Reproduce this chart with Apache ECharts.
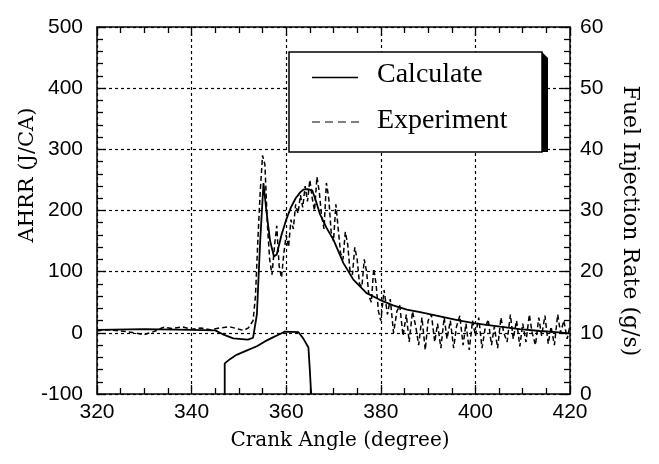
<!DOCTYPE html>
<html>
<head>
<meta charset="utf-8">
<script src="https://cdn.jsdelivr.net/npm/echarts@6/dist/echarts.min.js"></script>
<style>
  html, body { margin: 0; padding: 0; background: #fff; }
  #chart { width: 659px; height: 464px; }
</style>
</head>
<body>
<div id="chart"></div>
<script>
// calculated heat release rate (J/CA)
var calcAngle = [320, 330, 340, 345, 346.5, 348.8, 351.9, 353, 353.8, 354.5, 355.2, 355.8, 356.6, 357.4, 358, 359, 360, 361, 362, 363, 363.6, 364.5, 365.5, 366.3, 367.1, 368.5, 370, 372.1, 374.2, 377, 379.8, 382.6, 385.5, 388.3, 392.5, 396.7, 400.3, 405.2, 409.4, 413.7, 417, 420];
var calcAhrr = [5, 6, 5, 4, -2, -9, -11, -8, 30, 150, 245, 200, 150, 125, 128, 160, 185, 205, 220, 230, 234, 235, 233, 215, 195, 172, 152, 114, 87, 65, 54, 45, 38, 34, 27, 20, 15, 10, 6, 3, 1, -1];

// experimental heat release rate (J/CA)
var expAngle = [320, 322, 324, 326, 328, 330, 332, 334, 336, 338, 340, 342, 344, 346, 348, 350, 351, 352, 353, 353.5, 354, 354.5, 355, 355.5, 356, 356.5, 357, 357.5, 358, 358.5, 359, 359.5, 360, 360.5, 361, 361.5, 362, 362.5, 363, 363.5, 364, 364.5, 365, 365.5, 366, 366.5, 367, 367.5, 368, 368.5, 369, 369.5, 370, 370.5, 371, 371.5, 372, 372.5, 373, 373.5, 374, 374.5, 375, 375.5, 376, 376.5, 377, 377.5, 378, 378.5, 379, 379.5,
  380, 380.7, 381.4, 382, 382.7, 383.4, 384, 384.7, 385.4, 386, 386.7, 387.4, 388, 388.7, 389.4, 390, 390.7, 391.4, 392, 392.7, 393.4, 394, 394.7, 395.4, 396, 396.7, 397.4, 398, 398.7, 399.4,
  400, 400.7, 401.4, 402, 402.7, 403.4, 404, 404.7, 405.4, 406, 406.7, 407.4, 408, 408.7, 409.4, 410, 410.7, 411.4, 412, 412.7, 413.4, 414, 414.7, 415.4, 416, 416.7, 417.4, 418, 418.7, 419.4, 420];
var expAhrr = [3, 5, 4, 2, 0, -3, 2, 9, 7, 10, 6, 8, 5, 8, 10, 6, 4, 8, 20, 60, 150, 230, 290, 275, 180, 120, 95, 140, 175, 110, 90, 130, 160, 140, 185, 170, 210, 195, 225, 205, 240, 215, 250, 220, 200, 255, 230, 190, 170, 245, 220, 165, 150, 210, 170, 130, 120, 165, 145, 100, 95, 140, 120, 80, 75, 120, 100, 60, 50, 105, 80, 35,
  20, 70, 30, 55, 0, 35, 45, -5, 30, -15, 35, 10, -20, 25, -28, 20, 30, -15, 15, -25, 25, -10, 20, -25, 10, 28, -20, 15, -28, 20,
  -5, 25, -25, 5, 22, -20, 10, -25, 25, 0, -15, 30, -10, 20, -22, 15, -15, 30, 0, -20, 25, -5, 28, -18, 10, -20, 30, 0, 20, -10, 12];

// fuel injection rate (g/s)
var fuelAngle = [347, 347, 348.1, 349.5, 351.6, 353.8, 355.5, 357.3, 358.7, 359.7, 362.6, 363.6, 364.7, 365.0, 365.2, 365.3];
var fuelRate = [0, 5.0, 5.7, 6.4, 7.1, 7.8, 8.6, 9.3, 9.8, 10.2, 10.1, 9.1, 7.6, 3.9, 1.0, 0];

var xTicks = [320, 340, 360, 380, 400, 420];

function zip(xs, ys) {
  var out = [];
  for (var i = 0; i < xs.length; i++) out.push([xs[i], ys[i]]);
  return out;
}

var chart = echarts.init(document.getElementById('chart'));

var labelFont = 'Liberation Sans';
var axisLineStyle = { color: '#000', width: 1.5 };
var dotted = { color: '#000', width: 1.2, type: [3, 3] };
var tickStyle = { color: '#000', width: 1.3 };

var option = {
  animation: false,
  backgroundColor: '#fff',
  grid: { left: 97, right: 89, top: 27, bottom: 70 },
  xAxis: [
    {
      type: 'value', min: xTicks[0], max: xTicks[xTicks.length - 1], interval: 20,
      position: 'bottom',
      axisLine: { show: true, onZero: false, lineStyle: axisLineStyle },
      axisTick: { show: true, inside: true, length: 9, lineStyle: tickStyle },
      minorTick: { show: true, splitNumber: 4, length: 6, lineStyle: tickStyle },
      splitLine: { show: true, lineStyle: dotted },
      axisLabel: { color: '#000', fontFamily: labelFont, fontSize: 21, margin: 8 }
    },
    {
      type: 'value', min: xTicks[0], max: xTicks[xTicks.length - 1], interval: 20,
      position: 'top',
      axisLine: { show: true, onZero: false, lineStyle: axisLineStyle },
      axisTick: { show: true, inside: true, length: 9, lineStyle: tickStyle },
      minorTick: { show: true, splitNumber: 4, length: 6, lineStyle: tickStyle },
      splitLine: { show: false },
      axisLabel: { show: false }
    }
  ],
  yAxis: [
    {
      type: 'value', min: -100, max: 500, interval: 100,
      position: 'left',
      axisLine: { show: true, onZero: false, lineStyle: axisLineStyle },
      axisTick: { show: true, inside: true, length: 9, lineStyle: tickStyle },
      minorTick: { show: true, splitNumber: 5, length: 6, lineStyle: tickStyle },
      splitLine: { show: true, lineStyle: dotted },
      axisLabel: { color: '#000', fontFamily: labelFont, fontSize: 21, margin: 14, padding: [0, 0, 6, 0] }
    },
    {
      type: 'value', min: 0, max: 60, interval: 10,
      position: 'right',
      axisLine: { show: true, onZero: false, lineStyle: axisLineStyle },
      axisTick: { show: true, inside: true, length: 9, lineStyle: tickStyle },
      minorTick: { show: true, splitNumber: 5, length: 6, lineStyle: tickStyle },
      splitLine: { show: false },
      axisLabel: { color: '#000', fontFamily: labelFont, fontSize: 21, margin: 10, padding: [0, 0, 6, 0] }
    }
  ],
  series: [
    {
      name: 'Calculate', type: 'line', xAxisIndex: 0, yAxisIndex: 0,
      symbol: 'none', z: 4,
      lineStyle: { color: '#000', width: 1.8 },
      data: zip(calcAngle, calcAhrr)
    },
    {
      name: 'Experiment', type: 'line', xAxisIndex: 0, yAxisIndex: 0,
      symbol: 'none', z: 3,
      lineStyle: { color: '#000', width: 1.5, type: [5, 3] },
      data: zip(expAngle, expAhrr)
    },
    {
      name: 'Fuel', type: 'line', xAxisIndex: 0, yAxisIndex: 1,
      symbol: 'none', z: 4,
      lineStyle: { color: '#000', width: 1.8 },
      data: zip(fuelAngle, fuelRate)
    }
  ],
  graphic: [
    // axis titles
    {
      type: 'text', x: 28, y: 175, rotation: Math.PI / 2, z: 10,
      style: { text: 'AHRR (J/CA)', font: '21px "DejaVu Serif"', fill: '#000', align: 'center', verticalAlign: 'middle' }
    },
    {
      type: 'text', x: 630, y: 221, rotation: -Math.PI / 2, z: 10,
      style: { text: 'Fuel Injection Rate (g/s)', font: '22px "DejaVu Serif"', fill: '#000', align: 'center', verticalAlign: 'middle' }
    },
    {
      type: 'text', x: 340, y: 441, z: 10,
      style: { text: 'Crank Angle (degree)', font: '20px "DejaVu Serif"', fill: '#000', align: 'center', verticalAlign: 'middle' }
    },
    // legend box with shadow
    {
      type: 'polygon', z: 100,
      shape: { points: [[542, 52], [548, 58], [548, 152], [542, 152]] },
      style: { fill: '#000' }
    },
    {
      type: 'rect', z: 100,
      shape: { x: 289, y: 52, width: 253, height: 100 },
      style: { fill: '#fff', stroke: '#000', lineWidth: 1.5 }
    },
    {
      type: 'line', z: 101,
      shape: { x1: 312, y1: 77.5, x2: 358, y2: 77.5 },
      style: { stroke: '#000', lineWidth: 1.5 }
    },
    {
      type: 'line', z: 101,
      shape: { x1: 312, y1: 122, x2: 362, y2: 122 },
      style: { stroke: '#000', lineWidth: 1.2, lineDash: [8, 5] }
    },
    {
      type: 'text', x: 377, y: 89, z: 101,
      style: { text: 'Calculate', font: '28px "Liberation Serif"', fill: '#000', align: 'left', verticalAlign: 'bottom' }
    },
    {
      type: 'text', x: 377, y: 135, z: 101,
      style: { text: 'Experiment', font: '28px "Liberation Serif"', fill: '#000', align: 'left', verticalAlign: 'bottom' }
    }
  ]
};

chart.setOption(option);
window.onresize = chart.resize;
</script>
</body>
</html>
